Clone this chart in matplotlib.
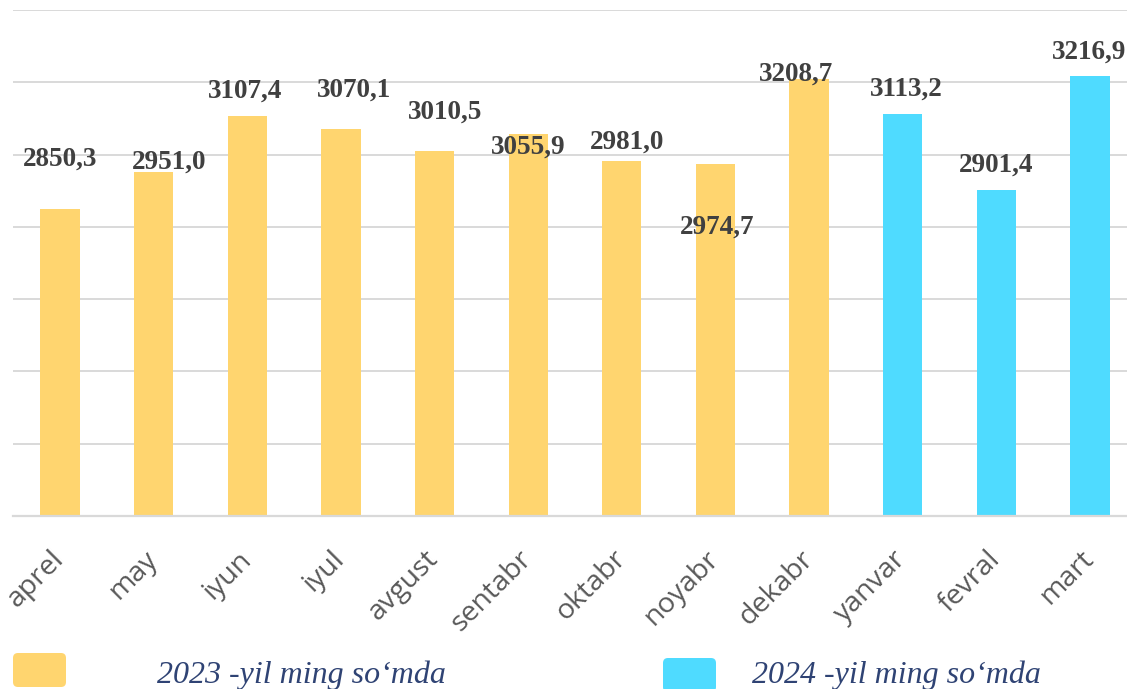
import matplotlib
matplotlib.use("Agg")
import matplotlib.pyplot as plt
from matplotlib.patches import FancyBboxPatch
import numpy as np

months = ["aprel", "may", "iyun", "iyul", "avgust", "sentabr", "oktabr",
          "noyabr", "dekabr", "yanvar", "fevral", "mart"]
values_2023 = [2850.3, 2951.0, 3107.4, 3070.1, 3010.5, 3055.9, 2981.0, 2974.7, 3208.7]
values_2024 = [3113.2, 2901.4, 3216.9]
legend_labels = ["2023 -yil ming so\u2018mda", "2024 -yil ming so\u2018mda"]

# label placement (pixels from bar centre / bar top), as in the source chart
label_dx = [0, 15, -2, 13, 11, 0, 5, 2, -13, 4, 0, -1]
label_dy = [50, 10, 25, 39, 39, -13, 19, -63, 5, 24, 25, 24]

YELLOW = "#FFD56F"
CYAN = "#4FDBFF"
GRID = "#D9D9D9"

W, H = 1127, 689
fig = plt.figure(figsize=(W / 100, H / 100), dpi=100)
ax = fig.add_axes([13.2 / W, (H - 516) / H, 1123.6 / W, 506 / H])

n23 = len(values_2023)
x23 = np.arange(n23)
x24 = np.arange(n23, n23 + len(values_2024))
ax.bar(x23, values_2023, width=0.42, color=YELLOW, zorder=2)
ax.bar(x24, values_2024, width=0.42, color=CYAN, zorder=2)

ax.set_xlim(-0.5, len(months) - 0.5)
ax.set_ylim(2000, 3400)
ax.set_yticks(np.arange(2000, 3401, 200))
ax.yaxis.grid(True, color=GRID, lw=1.4, zorder=0)
ax.tick_params(axis="y", length=0, labelleft=False)
for s in ["left", "right", "top"]:
    ax.spines[s].set_visible(False)
ax.spines["bottom"].set_color(GRID)
ax.spines["bottom"].set_linewidth(1.6)

ax.set_xticks(np.arange(len(months)))
ax.set_xticklabels(months, rotation=45, ha="right", va="center",
                   rotation_mode="anchor", fontsize=20.5, family="Open Sans",
                   color="#595959")
ax.tick_params(axis="x", length=0, pad=28)

all_vals = values_2023 + values_2024
for i, v in enumerate(all_vals):
    ax.annotate(f"{v:.1f}".replace(".", ","), (i, v),
                xytext=(label_dx[i], label_dy[i]), textcoords="offset pixels",
                ha="center", va="center", fontsize=19.5, fontweight="bold",
                family="Liberation Serif", color="#404040", zorder=3,
                annotation_clip=False)

# legend drawn in pixel space
lax = fig.add_axes([0, 0, 1, 1])
lax.set_xlim(0, W)
lax.set_ylim(H, 0)
lax.axis("off")
for (x0, y0), c, lab, tx in [((13, 653), YELLOW, legend_labels[0], 157),
                             ((663, 658), CYAN, legend_labels[1], 752)]:
    lax.add_patch(FancyBboxPatch((x0, y0), 53, 34,
                                 boxstyle="round,pad=0,rounding_size=5",
                                 color=c, lw=0))
    lax.text(tx, 683, lab, fontsize=23, style="italic", family="Liberation Serif",
             color="#2F4374", va="baseline", ha="left")

fig.savefig("out.png", dpi=100)
